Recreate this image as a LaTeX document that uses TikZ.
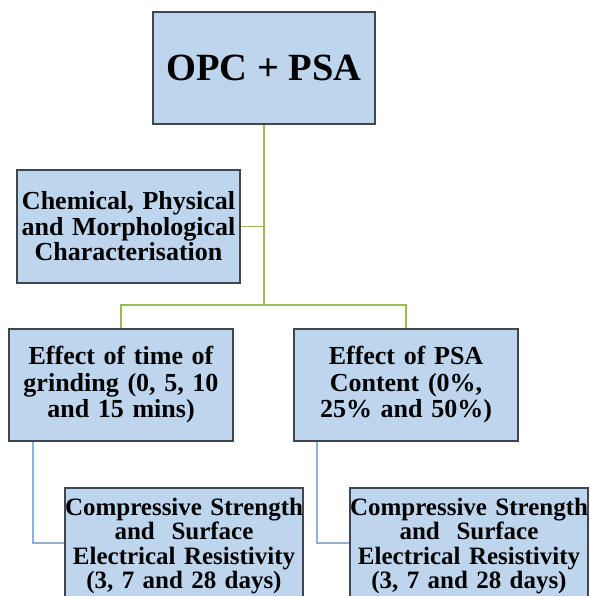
\documentclass[tikz,border=0pt]{standalone}
\usepackage{fontspec}
\setmainfont{Liberation Serif}
\definecolor{boxfill}{HTML}{BDD6EE}
\definecolor{boxdraw}{HTML}{3F4650}
\definecolor{lgreen}{HTML}{9BBB59}
\definecolor{lblue}{HTML}{8EB1DA}
\tikzset{
  box/.style={draw=boxdraw, fill=boxfill, line width=1.4pt, inner sep=0pt, align=center, font=\bfseries},
  gline/.style={draw=lgreen, line width=1.2pt},
  bline/.style={draw=lblue, line width=1.2pt},
}
\begin{document}
\begin{tikzpicture}[x=1pt,y=-1pt]
\useasboundingbox (0,0) rectangle (590,596);
\node[box, minimum width=222pt, minimum height=112pt, font=\bfseries\fontsize{38.5}{40}\selectfont] (top) at (264,68) {OPC + PSA};
\node[box, minimum width=223pt, minimum height=113pt, text width=223pt, font=\bfseries\fontsize{26}{25.5}\selectfont] (chem) at (128.5,226.5) {Chemical, Physical\\and Morphological\\Characterisation};
\node[box, minimum width=224pt, minimum height=112pt, text width=224pt, font=\bfseries\fontsize{26}{26.5}\selectfont] (effL) at (121,385) {Effect of time of\\grinding (0, 5, 10\\and 15 mins)};
\node[box, minimum width=224pt, minimum height=112pt, text width=224pt, font=\bfseries\fontsize{26}{26.5}\selectfont] (effR) at (406,385) {Effect of PSA\\Content (0\%,\\25\% and 50\%)};
\node[box, minimum width=238pt, minimum height=116pt, text width=238pt, font=\bfseries\fontsize{25}{24.3}\selectfont] (botL) at (184,546) {Compressive Strength\\and~ Surface\\Electrical Resistivity\\(3, 7 and 28 days)};
\node[box, minimum width=238pt, minimum height=116pt, text width=238pt, font=\bfseries\fontsize{25}{24.3}\selectfont] (botR) at (469,546) {Compressive Strength\\and~ Surface\\Electrical Resistivity\\(3, 7 and 28 days)};
\coordinate (j) at (264,305);
\coordinate (bl) at (33,543);
\coordinate (br) at (317,543);
\draw[gline] (top.south) -- (j);
\draw[gline] (chem.east) -- (chem.east -| j);
\draw[gline] (effL.north) |- (j) -| (effR.north);
\draw[bline] (effL.south -| bl) -- (bl) -- (botL.west |- bl);
\draw[bline] (effR.south -| br) -- (br) -- (botR.west |- br);
\end{tikzpicture}
\end{document}
